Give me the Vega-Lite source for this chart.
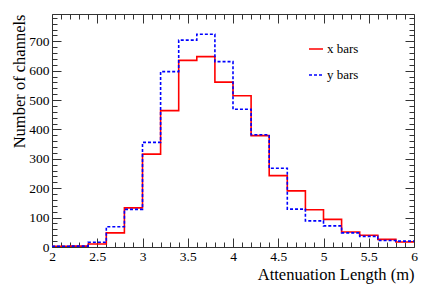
{
  "$schema": "https://vega.github.io/schema/vega-lite/v6.json",
  "width": 362,
  "height": 233,
  "autosize": {"type": "none"},
  "padding": {"left": 52, "top": 14, "right": 22, "bottom": 48},
  "background": "white",
  "config": {
    "view": {"stroke": "#333", "strokeWidth": 1},
    "font": "Liberation Serif",
    "axis": {"domain": false, "grid": false, "labelFont": "Liberation Serif", "titleFont": "Liberation Serif", "labelColor": "#000", "titleColor": "#000", "titleFontWeight": "normal", "tickColor": "#333", "tickWidth": 1}
  },
  "data": {
    "values": [
      {"x": 2.0, "n": 2, "s": "x bars"}, {"x": 2.2, "n": 3, "s": "x bars"}, {"x": 2.4, "n": 10, "s": "x bars"}, {"x": 2.6, "n": 48, "s": "x bars"},
      {"x": 2.8, "n": 133, "s": "x bars"}, {"x": 3.0, "n": 316, "s": "x bars"}, {"x": 3.2, "n": 464, "s": "x bars"}, {"x": 3.4, "n": 635, "s": "x bars"},
      {"x": 3.6, "n": 648, "s": "x bars"}, {"x": 3.8, "n": 561, "s": "x bars"}, {"x": 4.0, "n": 515, "s": "x bars"}, {"x": 4.2, "n": 379, "s": "x bars"},
      {"x": 4.4, "n": 243, "s": "x bars"}, {"x": 4.6, "n": 191, "s": "x bars"}, {"x": 4.8, "n": 127, "s": "x bars"}, {"x": 5.0, "n": 94, "s": "x bars"},
      {"x": 5.2, "n": 51, "s": "x bars"}, {"x": 5.4, "n": 40, "s": "x bars"}, {"x": 5.6, "n": 26, "s": "x bars"}, {"x": 5.8, "n": 17, "s": "x bars"},
      {"x": 6.0, "n": 17, "s": "x bars"},
      {"x": 2.0, "n": 2, "s": "y bars"}, {"x": 2.2, "n": 3, "s": "y bars"}, {"x": 2.4, "n": 16, "s": "y bars"}, {"x": 2.6, "n": 69, "s": "y bars"},
      {"x": 2.8, "n": 128, "s": "y bars"}, {"x": 3.0, "n": 356, "s": "y bars"}, {"x": 3.2, "n": 597, "s": "y bars"}, {"x": 3.4, "n": 704, "s": "y bars"},
      {"x": 3.6, "n": 724, "s": "y bars"}, {"x": 3.8, "n": 631, "s": "y bars"}, {"x": 4.0, "n": 469, "s": "y bars"}, {"x": 4.2, "n": 382, "s": "y bars"},
      {"x": 4.4, "n": 268, "s": "y bars"}, {"x": 4.6, "n": 129, "s": "y bars"}, {"x": 4.8, "n": 89, "s": "y bars"}, {"x": 5.0, "n": 72, "s": "y bars"},
      {"x": 5.2, "n": 48, "s": "y bars"}, {"x": 5.4, "n": 36, "s": "y bars"}, {"x": 5.6, "n": 22, "s": "y bars"}, {"x": 5.8, "n": 20, "s": "y bars"},
      {"x": 6.0, "n": 20, "s": "y bars"}
    ]
  },
  "resolve": {"axis": {"x": "independent", "y": "independent"}},
  "layer": [
    {
      "mark": {"type": "line", "interpolate": "step-after", "strokeWidth": 1.6, "clip": true},
      "encoding": {
        "x": {"field": "x", "type": "quantitative", "scale": {"domain": [2, 6], "nice": false, "zero": false},
          "axis": {"orient": "bottom", "ticks": false, "values": [2, 2.5, 3, 3.5, 4, 4.5, 5, 5.5, 6], "format": "~g", "labelFontSize": 13.5, "labelPadding": 2, "labelFlush": false,
            "title": "Attenuation Length (m)", "titleFontSize": 16.5, "titleAnchor": "end", "titleAlign": "right", "titleBaseline": "alphabetic", "titleX": 362, "titleY": 32}},
        "y": {"field": "n", "type": "quantitative", "scale": {"domain": [0, 793], "nice": false},
          "axis": {"orient": "left", "ticks": false, "values": [0, 100, 200, 300, 400, 500, 600, 700], "labelFontSize": 13.5, "labelPadding": 3,
            "title": "Number of channels", "titleFontSize": 16.5, "titleAngle": -90, "titleAnchor": "end", "titleAlign": "right", "titleBaseline": "middle", "titleX": -33, "titleY": 0}},
        "color": {"field": "s", "type": "nominal", "scale": {"domain": ["x bars", "y bars"], "range": ["#ff0000", "#0000ff"]},
          "legend": {"orient": "none", "legendX": 256, "legendY": 27, "title": null, "symbolType": "stroke", "symbolSize": 196, "symbolStrokeWidth": 1.5, "labelFont": "Liberation Serif", "labelFontSize": 13, "labelColor": "#000", "rowPadding": 11, "padding": 0, "labelOffset": 3}},
        "strokeDash": {"field": "s", "type": "nominal", "scale": {"domain": ["x bars", "y bars"], "range": [[1, 0], [3, 2]]}}
      }
    },
    {
      "mark": {"type": "line", "opacity": 0},
      "encoding": {
        "x": {"field": "x", "type": "quantitative",
          "axis": {"orient": "bottom", "labels": false, "title": null, "values": [2,2.1,2.2,2.3,2.4,2.5,2.6,2.7,2.8,2.9,3,3.1,3.2,3.3,3.4,3.5,3.6,3.7,3.8,3.9,4,4.1,4.2,4.3,4.4,4.5,4.6,4.7,4.8,4.9,5,5.1,5.2,5.3,5.4,5.5,5.6,5.7,5.8,5.9,6],
            "tickSize": {"condition": {"test": "abs(datum.value*2-round(datum.value*2))<0.001", "value": -9}, "value": -5}}},
        "y": {"field": "n", "type": "quantitative",
          "axis": {"orient": "left", "labels": false, "title": null, "values": [0,20,40,60,80,100,120,140,160,180,200,220,240,260,280,300,320,340,360,380,400,420,440,460,480,500,520,540,560,580,600,620,640,660,680,700,720,740,760,780],
            "tickSize": {"condition": {"test": "datum.value % 100 == 0", "value": -9}, "value": -5}}}
      }
    },
    {
      "mark": {"type": "line", "opacity": 0},
      "encoding": {
        "x": {"field": "x", "type": "quantitative",
          "axis": {"orient": "top", "labels": false, "title": null, "values": [2,2.1,2.2,2.3,2.4,2.5,2.6,2.7,2.8,2.9,3,3.1,3.2,3.3,3.4,3.5,3.6,3.7,3.8,3.9,4,4.1,4.2,4.3,4.4,4.5,4.6,4.7,4.8,4.9,5,5.1,5.2,5.3,5.4,5.5,5.6,5.7,5.8,5.9,6],
            "tickSize": {"condition": {"test": "abs(datum.value*2-round(datum.value*2))<0.001", "value": -9}, "value": -5}}},
        "y": {"field": "n", "type": "quantitative",
          "axis": {"orient": "right", "labels": false, "title": null, "values": [0,20,40,60,80,100,120,140,160,180,200,220,240,260,280,300,320,340,360,380,400,420,440,460,480,500,520,540,560,580,600,620,640,660,680,700,720,740,760,780],
            "tickSize": {"condition": {"test": "datum.value % 100 == 0", "value": -9}, "value": -5}}}
      }
    }
  ]
}
